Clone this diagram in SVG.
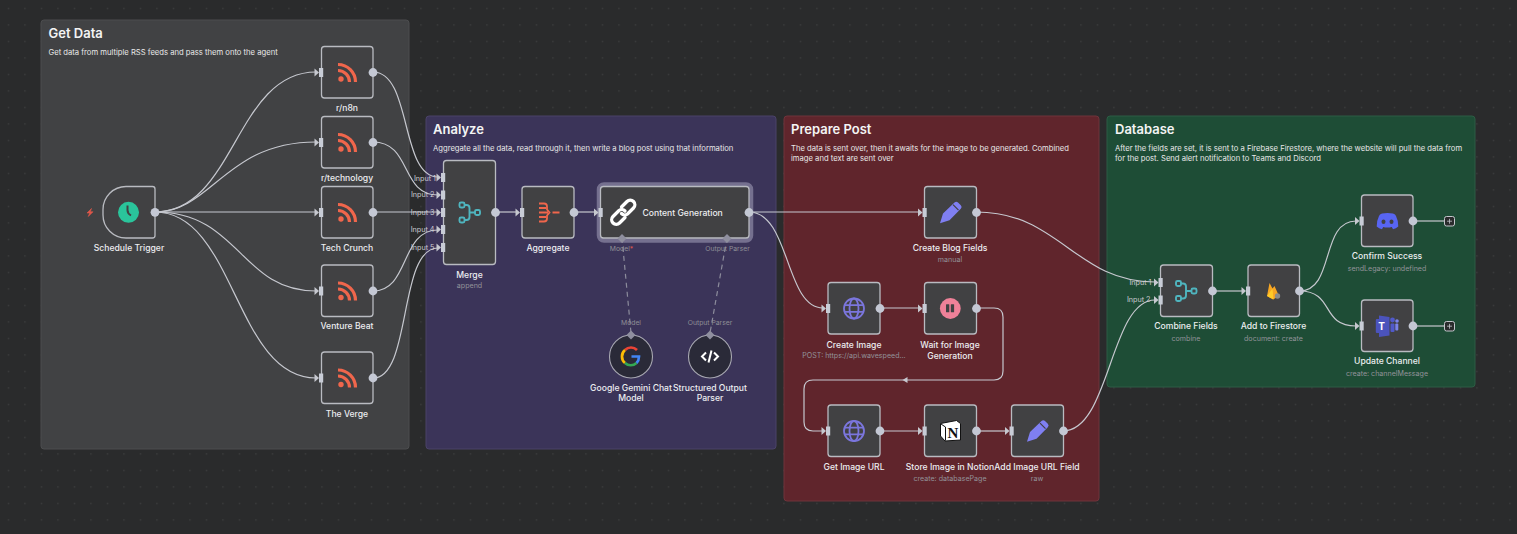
<svg xmlns="http://www.w3.org/2000/svg" width="1517" height="534" viewBox="0 0 1517 534">
<style>
text{font-family:Inter,"Liberation Sans",sans-serif}
.t{font-size:8.6px;font-weight:500;fill:#ecedf0;text-anchor:middle}
.s{font-size:7.1px;fill:#93939a;text-anchor:middle}
.h{font-size:13px;font-weight:600;fill:#f4f4f4}
.d{font-size:7.65px;font-weight:400;fill:#e8e8e8}
.l{font-size:7.2px;fill:#cbcbd1;text-anchor:end}
.m{font-size:6.8px;fill:#8f8f96;text-anchor:middle}
.n{fill:#414143;stroke:#b9bbc1;stroke-width:1.3}
.c{fill:none;stroke:#c6c8cf;stroke-width:1.2}
.x{fill:none;stroke:#8c8c9c;stroke-width:1.2;stroke-dasharray:5 4}
.o{fill:#c4c8d4}
.i{fill:#c8ccd6}
.ar{fill:#c6c8cf}
.dm{fill:#8f8f9f}
</style>
<defs>
<pattern id="dots" width="16.5" height="16.5" patternUnits="userSpaceOnUse"><rect x="8" y="8" width="1" height="1" fill="#4e4f50"/></pattern>
<g id="inp"><path d="M-6.500 -4L-2 0L-6.500 4Z" class="ar"/><rect x="-2" y="-4.500" width="4.200" height="9" class="i"/></g>
<g id="rss" fill="none" stroke="#f0664c" stroke-width="3.200"><circle cx="-6.500" cy="6.500" r="2.700" fill="#f0664c" stroke="none"/><path d="M-9.500 -2A11.500 11.500 0 0 1 2 9.500"/><path d="M-9.500 -8A17.500 17.500 0 0 1 8 9.500"/></g>
<g id="pen"><path d="M-10.500 10.800L-7.500 1L4 -10A2.500 2.500 0 0 1 7.500 -10L10.300 -7.300A2.500 2.500 0 0 1 10.300 -3.800L-1 7.800Z" fill="#7f7ff2"/><path d="M2.500 -7.800L8 -2.300" stroke="#414143" stroke-width="1.200"/></g>
<g id="globe" fill="none" stroke="#7b76dd" stroke-width="1.800"><circle r="10"/><ellipse rx="4.500" ry="10"/><path d="M-9.500 -3.300H9.500M-9.500 3.300H9.500"/></g>
<g id="merge" fill="none" stroke="#4fb5bf" stroke-width="1.900"><rect x="-10" y="-10" width="5" height="5" rx="1.500"/><rect x="-10" y="5" width="5" height="5" rx="1.500"/><rect x="5.500" y="-2.500" width="5" height="5" rx="1.500"/><path d="M-5 -7.500H-3Q0 -7.500 0 -4.500V4.500Q0 7.500 -3 7.500H-5M0 0H5.500"/></g>
</defs>
<rect width="1517" height="534" fill="#2a2b2c"/>
<rect width="1517" height="534" fill="url(#dots)"/>

<g id="panels">
<g id="panel-get-data"><rect x="41" y="20" width="368" height="429" rx="3" fill="#414244" stroke="#4c4d4f"/><text class="h" x="48.500" y="38">Get Data</text><text class="d" x="48.500" y="55">Get data from multiple RSS feeds and pass them onto the agent</text></g>
<g id="panel-analyze"><rect x="426" y="116" width="350" height="333" rx="3" fill="#3b3459" stroke="#4a4368"/><text class="h" x="433" y="134">Analyze</text><text class="d" x="433" y="151">Aggregate all the data, read through it, then write a blog post using that information</text></g>
<g id="panel-prepare"><rect x="784" y="116" width="315" height="385" rx="3" fill="#60252c" stroke="#6f343b"/><text class="h" x="791" y="134">Prepare Post</text><text class="d" x="791" y="151">The data is sent over, then it awaits for the image to be generated. Combined</text><text class="d" x="791" y="161">image and text are sent over</text></g>
<g id="panel-database"><rect x="1107" y="116" width="368" height="271" rx="3" fill="#1e4d36" stroke="#2c5c44"/><text class="h" x="1115" y="134">Database</text><text class="d" x="1115" y="151">After the fields are set, it is sent to a Firebase Firestore, where the website will pull the data from</text><text class="d" x="1115" y="161">for the post. Send alert notification to Teams and Discord</text></g>
</g>

<g id="connectors">
<path class="c" d="M155 212C235 212 235 72 316 72"/>
<path class="c" d="M155 212C212 212 225 142 316 142"/>
<path class="c" d="M155 212H316"/>
<path class="c" d="M155 212C240 212 240 291 316 291"/>
<path class="c" d="M155 212C235 212 235 378 316 378"/>
<path class="c" d="M373 72C412 72 400 177 438 177"/>
<path class="c" d="M373 142C412 142 400 195 438 195"/>
<path class="c" d="M373 212H438"/>
<path class="c" d="M373 291C410 291 400 230 438 230"/>
<path class="c" d="M373 378C412 378 398 248 438 248"/>
<path class="c" d="M495.500 212H517"/>
<path class="c" d="M574 212H596"/>
<path class="c" d="M749 212H919"/>
<path class="c" d="M749 212C790 212 785 308 823 308"/>
<path class="c" d="M880 308H919"/>
<path class="c" d="M976 308H994Q1003 308 1003 317V371Q1003 380 994 380H813Q804 380 804 389V422Q804 431 813 431H823"/>
<path class="c" d="M880 431H919"/>
<path class="c" d="M976 431H1006"/>
<path class="c" d="M976 212C1060 212 1075 282 1155 282"/>
<path class="c" d="M1063 431C1110 431 1110 300 1155 300"/>
<path class="c" d="M1212 291H1243"/>
<path class="c" d="M1299.500 291C1335 291 1320 221 1356 221"/>
<path class="c" d="M1299.500 291C1335 291 1320 326 1356 326"/>
<path class="c" d="M1413 221H1444"/>
<path class="c" d="M1413 326H1444"/>
<path class="x" d="M622 238L631 333"/>
<path class="x" d="M727 238L710 333"/>
<path class="ar" d="M907.500 377L902.500 380L907.500 383Z"/>
</g>

<g id="node-schedule-trigger"><path class="n" d="M126 186.500H152.500Q155 186.500 155 189V235.500Q155 238 152.500 238H126A23 23 0 0 1 103 215V209.500A23 23 0 0 1 126 186.500Z"/><circle cx="128.500" cy="212.300" r="10.500" fill="#2ac49b"/><path d="M127.500 205.500V210Q127.500 213.500 131 215.500" fill="none" stroke="#414143" stroke-width="2"/><path d="M91.500 208.500L87 213H89.700L88.300 216.500L93 211.800H90.300Z" fill="#e0574a" stroke="#e0574a" stroke-width=".6"/><circle class="o" cx="155" cy="212.300" r="4.400"/><text class="t" x="129" y="251">Schedule Trigger</text></g>
<g id="node-rn8n"><rect class="n" x="321.500" y="46.500" width="51.500" height="51.500" rx="3"/><use href="#rss" x="347.500" y="72.500"/><use href="#inp" x="321" y="72.500"/><circle class="o" cx="373" cy="72.500" r="4.400"/><text class="t" x="347" y="111">r/n8n</text></g>
<g id="node-rtechnology"><rect class="n" x="321.500" y="116.500" width="51.500" height="51.500" rx="3"/><use href="#rss" x="347.500" y="142.500"/><use href="#inp" x="321" y="142.500"/><circle class="o" cx="373" cy="142.500" r="4.400"/><text class="t" x="347" y="181">r/technology</text></g>
<g id="node-tech-crunch"><rect class="n" x="321.500" y="186.500" width="51.500" height="51.500" rx="3"/><use href="#rss" x="347.500" y="212.500"/><use href="#inp" x="321" y="212.500"/><circle class="o" cx="373" cy="212.500" r="4.400"/><text class="t" x="347" y="251">Tech Crunch</text></g>
<g id="node-venture-beat"><rect class="n" x="321.500" y="265" width="51.500" height="51.500" rx="3"/><use href="#rss" x="347.500" y="291"/><use href="#inp" x="321" y="291"/><circle class="o" cx="373" cy="291" r="4.400"/><text class="t" x="347" y="329">Venture Beat</text></g>
<g id="node-the-verge"><rect class="n" x="321.500" y="352" width="51.500" height="51.500" rx="3"/><use href="#rss" x="347.500" y="378"/><use href="#inp" x="321" y="378"/><circle class="o" cx="373" cy="378" r="4.400"/><text class="t" x="347" y="417">The Verge</text></g>

<g id="node-merge"><rect class="n" x="443.500" y="160.500" width="52" height="104" rx="3"/><use href="#merge" x="469.500" y="212.500"/><use href="#inp" x="443" y="177.500"/><use href="#inp" x="443" y="195"/><use href="#inp" x="443" y="212.500"/><use href="#inp" x="443" y="229.500"/><use href="#inp" x="443" y="247.500"/><circle class="o" cx="495.500" cy="212.500" r="4.400"/><text class="l" x="436" y="180.500">Input 1</text><text class="l" x="434.500" y="197">Input 2</text><text class="l" x="434.500" y="215">Input 3</text><text class="l" x="434.500" y="232">Input 4</text><text class="l" x="434.500" y="250">Input 5</text><text class="t" x="469.500" y="277.500">Merge</text><text class="s" x="469.500" y="288">append</text></g>
<g id="node-aggregate"><rect class="n" x="522" y="186.500" width="52" height="51.500" rx="3"/><g fill="none" stroke="#f0664c" stroke-width="1.800"><path d="M539 203.500H544Q547 203.500 547 206.500V209.500L549.500 212.500L547 215.500V218.500Q547 221.500 544 221.500H539M539 208H546M539 212.500H548M539 217H546M552.500 212.500H559.500"/></g><use href="#inp" x="522" y="212.500"/><circle class="o" cx="574" cy="212.500" r="4.400"/><text class="t" x="548" y="251">Aggregate</text></g>
<g id="node-content-generation"><rect x="599" y="184.500" width="152" height="56" rx="5" fill="none" stroke="#75708f" stroke-width="4.500"/><rect class="n" x="600.500" y="186.500" width="148.500" height="51.500" rx="3"/><g fill="none" stroke="#fff" stroke-width="3.300" stroke-linecap="round"><path d="M621.500 207L627 201.500A4.500 4.500 0 0 1 633.500 208L627.500 214A4.500 4.500 0 0 1 621.500 213.500"/><path d="M625 217.500L619.500 223A4.500 4.500 0 0 1 613 216.500L619 210.500A4.500 4.500 0 0 1 625 211"/></g><use href="#inp" x="600.500" y="212.500"/><circle class="o" cx="749" cy="212.500" r="4.400"/><text x="642.500" y="216" style="font-size:8.600px;font-weight:500;fill:#ecedf0">Content Generation</text><path class="dm" d="M622 234L626.500 238.500L622 243L617.500 238.500Z"/><path class="dm" d="M727 234L731.500 238.500L727 243L722.500 238.500Z"/><text class="m" x="621.500" y="251">Model<tspan fill="#e0574a">*</tspan></text><text class="m" x="727.500" y="251">Output Parser</text></g>
<g id="node-gemini"><circle cx="631" cy="356.500" r="21.500" fill="#2a2a38" stroke="#a8a8b2" stroke-width="1.100"/><g fill="none" stroke-width="2.700"><path d="M637 350A8.500 8.500 0 0 0 625 350" stroke="#ea4335"/><path d="M625 350A8.500 8.500 0 0 0 625 363" stroke="#fbbc05"/><path d="M625 363A8.500 8.500 0 0 0 636.500 363" stroke="#34a853"/><path d="M636.500 363Q639 360.500 639 356.500H631.500" stroke="#4285f4"/></g><path class="dm" d="M631 330.500L635.500 335L631 339.500L626.500 335Z"/><text class="m" x="631" y="325">Model</text><text class="t" x="631" y="391">Google Gemini Chat</text><text class="t" x="631" y="401">Model</text></g>
<g id="node-structured-parser"><circle cx="710" cy="356.500" r="21.500" fill="#2a2a38" stroke="#a8a8b2" stroke-width="1.100"/><g fill="none" stroke="#fff" stroke-width="2"><path d="M706 352.500L702 356.500L706 360.500M714 352.500L718 356.500L714 360.500M711.500 350.500L708.500 362.500"/></g><path class="dm" d="M710 330.500L714.500 335L710 339.500L705.500 335Z"/><text class="m" x="710" y="325">Output Parser</text><text class="t" x="710" y="391">Structured Output</text><text class="t" x="710" y="401">Parser</text></g>

<g id="node-create-blog-fields"><rect class="n" x="924.500" y="186.500" width="52" height="51.500" rx="3"/><use href="#pen" x="950.500" y="212.500"/><use href="#inp" x="924.500" y="212.500"/><circle class="o" cx="976.500" cy="212.500" r="4.400"/><text class="t" x="950" y="251">Create Blog Fields</text><text class="s" x="950" y="262">manual</text></g>
<g id="node-create-image"><rect class="n" x="828" y="282.500" width="52" height="51.500" rx="3"/><use href="#globe" x="854" y="308.500"/><use href="#inp" x="828" y="308.500"/><circle class="o" cx="880" cy="308.500" r="4.400"/><text class="t" x="854" y="347.500">Create Image</text><text class="s" x="854" y="358">POST: https://api.wavespeed...</text></g>
<g id="node-wait"><rect class="n" x="924.500" y="282.500" width="52" height="51.500" rx="3"/><circle cx="950.300" cy="308.500" r="10.400" fill="#ef8199"/><rect x="946" y="304.300" width="3.300" height="8" rx="0.500" fill="#414143"/><rect x="950.800" y="304.300" width="3.300" height="8" rx="0.500" fill="#414143"/><use href="#inp" x="924.500" y="308.500"/><circle class="o" cx="976.500" cy="308.500" r="4.400"/><text class="t" x="950" y="347.500">Wait for Image</text><text class="t" x="950" y="358.500">Generation</text></g>
<g id="node-get-image-url"><rect class="n" x="828" y="405" width="52" height="51.500" rx="3"/><use href="#globe" x="854" y="431"/><use href="#inp" x="828" y="431"/><circle class="o" cx="880" cy="431" r="4.400"/><text class="t" x="854" y="469.500">Get Image URL</text></g>
<g id="node-notion"><rect class="n" x="924.500" y="405" width="52" height="51.500" rx="3"/><path d="M940.500 423.500L956.500 420.500L960.500 423.500V440L945 441L940.500 436Z" fill="#fff" stroke="#111" stroke-width="1"/><path d="M941 424L945.500 427V440.500" fill="none" stroke="#111" stroke-width="1"/><text x="953" y="438" style="font-family:'Liberation Serif',serif;font-size:15px;font-weight:700;fill:#111;text-anchor:middle">N</text><use href="#inp" x="924.500" y="431"/><circle class="o" cx="976.500" cy="431" r="4.400"/><text class="t" x="950" y="469.500">Store Image in Notion</text><text class="s" x="950" y="481">create: databasePage</text></g>
<g id="node-add-image-url"><rect class="n" x="1011.500" y="405" width="52" height="51.500" rx="3"/><use href="#pen" x="1037.500" y="431"/><use href="#inp" x="1011.500" y="431"/><circle class="o" cx="1063.500" cy="431" r="4.400"/><text class="t" x="1037" y="469.500">Add Image URL Field</text><text class="s" x="1037" y="481">raw</text></g>

<g id="node-combine-fields"><rect class="n" x="1160.500" y="265" width="52" height="51.500" rx="3"/><use href="#merge" x="1186" y="291"/><use href="#inp" x="1160.500" y="282.500"/><use href="#inp" x="1160.500" y="300"/><circle class="o" cx="1212.500" cy="291" r="4.400"/><text class="l" x="1151.500" y="285">Input 1</text><text class="l" x="1150.500" y="302">Input 2</text><text class="t" x="1186" y="329">Combine Fields</text><text class="s" x="1186" y="341">combine</text></g>
<g id="node-firestore"><rect class="n" x="1248" y="265" width="51.500" height="51.500" rx="3"/><path d="M1267 296L1269.500 283L1272.500 288.500L1274.500 286L1279 296L1273 299.500Z" fill="#f6a623"/><path d="M1267 296L1272.500 288.500L1273.500 299.500Z" fill="#ffca28"/><circle cx="1277.500" cy="296" r="2.700" fill="#8a8a8a"/><use href="#inp" x="1248" y="291"/><circle class="o" cx="1299.500" cy="291" r="4.400"/><text class="t" x="1273.500" y="329">Add to Firestore</text><text class="s" x="1273.500" y="341">document: create</text></g>
<g id="node-confirm-success"><rect class="n" x="1361.500" y="195" width="51.500" height="51.500" rx="3"/><path d="M1382 213.500Q1387.500 212.500 1393 213.500Q1395.500 214 1396 216Q1398.500 221 1398.300 226.500Q1396 228.500 1393 229.300L1391.800 227Q1387.500 228 1383.200 227L1382 229.300Q1379 228.500 1376.700 226.500Q1376.500 221 1379 216Q1379.500 214 1382 213.500Z" fill="#5865f2"/><ellipse cx="1383.500" cy="221.800" rx="2" ry="2.300" fill="#414143"/><ellipse cx="1391.500" cy="221.800" rx="2" ry="2.300" fill="#414143"/><use href="#inp" x="1361.500" y="221"/><circle class="o" cx="1413" cy="221" r="4.400"/><rect x="1444.500" y="216.500" width="10" height="9.500" rx="2" fill="#2a2b2c" stroke="#c4c6cc"/><path d="M1447 221.200H1452M1449.500 218.800V223.700" stroke="#c4c6cc" stroke-width="0.800"/><text class="t" x="1387" y="259">Confirm Success</text><text class="s" x="1387" y="271">sendLegacy: undefined</text></g>
<g id="node-update-channel"><rect class="n" x="1361.500" y="300" width="51.500" height="51.500" rx="3"/><path d="M1379 315.500L1389.500 317V335.500L1379 337Z" fill="#4b53bc"/><circle cx="1392.500" cy="320" r="2.400" fill="#5059c9"/><circle cx="1397" cy="321" r="1.800" fill="#7b83eb"/><rect x="1390.500" y="323.500" width="4" height="8.500" rx="1" fill="#5059c9"/><rect x="1395.300" y="323.500" width="3" height="7" rx="1" fill="#7b83eb"/><rect x="1375.800" y="319" width="11.500" height="14" rx="1" fill="#4b53bc"/><text x="1381.500" y="330" style="font-size:10px;font-weight:700;fill:#fff;text-anchor:middle">T</text><use href="#inp" x="1361.500" y="326"/><circle class="o" cx="1413" cy="326" r="4.400"/><rect x="1444.500" y="321.500" width="10" height="9.500" rx="2" fill="#2a2b2c" stroke="#c4c6cc"/><path d="M1447 326.200H1452M1449.500 323.800V328.700" stroke="#c4c6cc" stroke-width="0.800"/><text class="t" x="1387" y="364">Update Channel</text><text class="s" x="1387" y="376">create: channelMessage</text></g>
</svg>
